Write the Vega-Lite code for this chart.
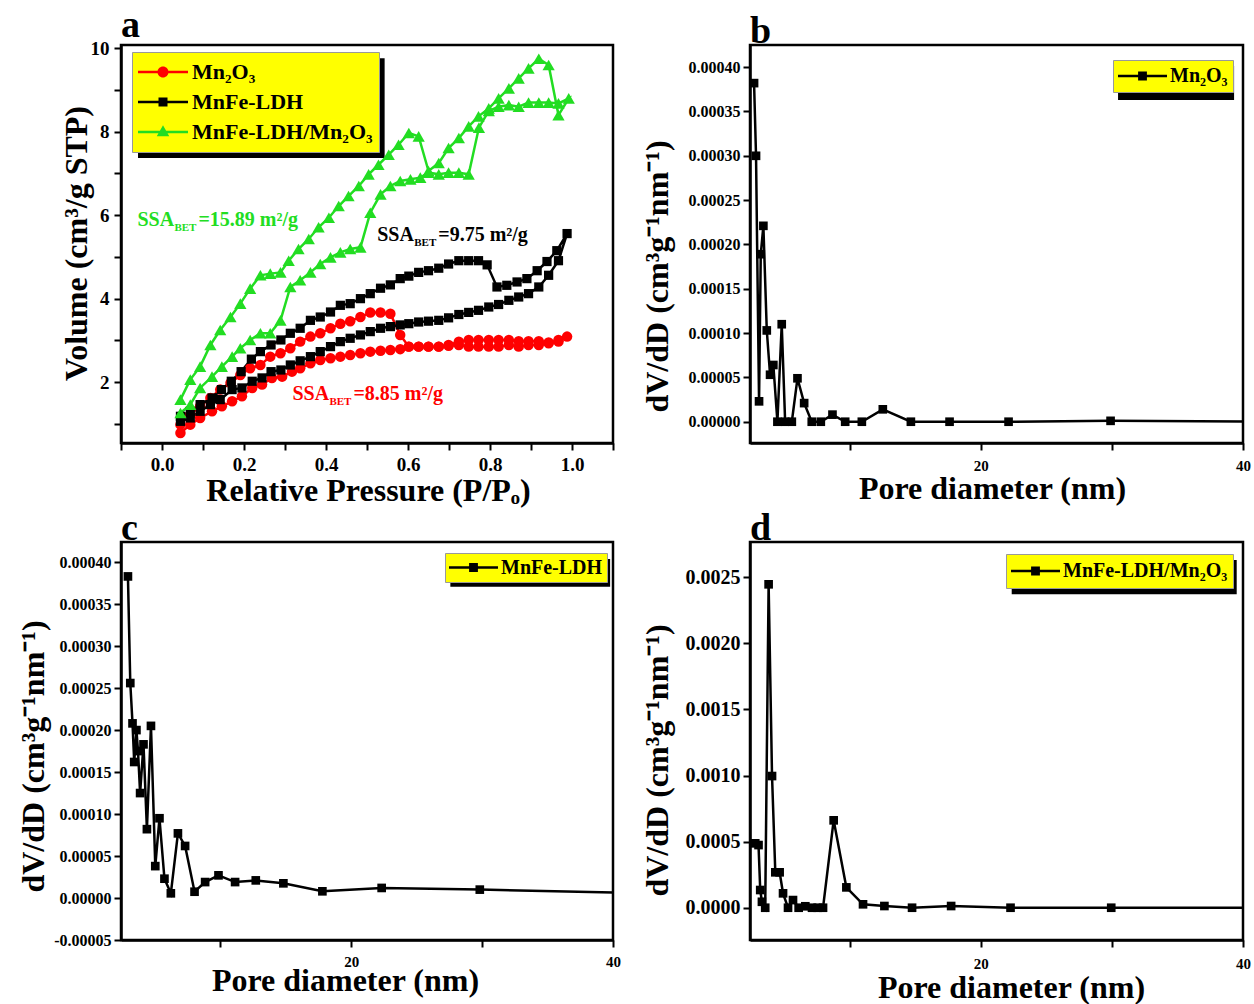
{
"$schema": "https://vega.github.io/schema/vega-lite/v6.json",
"background": "white",
"padding": {"left": 15, "top": 6, "right": 5, "bottom": 5},
"config": {
  "font": "Liberation Serif",
  "view": {"stroke": "black", "strokeWidth": 2.5},
  "axis": {"grid": false, "domainColor": "black", "domainWidth": 2.5, "tickColor": "black", "tickWidth": 2, "tickSize": 7, "labelFont": "Liberation Serif", "labelFontWeight": "bold", "labelColor": "black", "titleFont": "Liberation Serif", "titleFontWeight": "bold", "titleColor": "black", "titleFontSize": 32, "labelFlush": false, "labelOverlap": false},
  "title": {"font": "Liberation Serif", "fontWeight": "bold", "fontSize": 38, "color": "black", "anchor": "start", "frame": "group", "offset": 4, "baseline": "alphabetic", "dy": 10},
  "legend": {"labelFont": "Liberation Serif", "labelFontWeight": "bold", "labelColor": "black", "titleFont": "Liberation Serif", "labelLimit": 400, "symbolOpacity": 1, "symbolStrokeWidth": 0}
},
"datasets": {
  "iso": [
    {"s":"Mn₂O₃","i":0,"p":0.045,"v":0.78},{"s":"Mn₂O₃","i":1,"p":0.069,"v":0.98},{"s":"Mn₂O₃","i":2,"p":0.093,"v":1.14},{"s":"Mn₂O₃","i":3,"p":0.122,"v":1.30},{"s":"Mn₂O₃","i":4,"p":0.146,"v":1.42},{"s":"Mn₂O₃","i":5,"p":0.171,"v":1.54},{"s":"Mn₂O₃","i":6,"p":0.195,"v":1.66},{"s":"Mn₂O₃","i":7,"p":0.220,"v":1.86},{"s":"Mn₂O₃","i":8,"p":0.244,"v":1.94},{"s":"Mn₂O₃","i":9,"p":0.268,"v":2.10},
    {"s":"Mn₂O₃","i":10,"p":0.293,"v":2.13},{"s":"Mn₂O₃","i":11,"p":0.317,"v":2.25},{"s":"Mn₂O₃","i":12,"p":0.337,"v":2.33},{"s":"Mn₂O₃","i":13,"p":0.362,"v":2.45},{"s":"Mn₂O₃","i":14,"p":0.386,"v":2.53},{"s":"Mn₂O₃","i":15,"p":0.411,"v":2.57},{"s":"Mn₂O₃","i":16,"p":0.435,"v":2.61},{"s":"Mn₂O₃","i":17,"p":0.459,"v":2.65},{"s":"Mn₂O₃","i":18,"p":0.484,"v":2.69},{"s":"Mn₂O₃","i":19,"p":0.508,"v":2.73},
    {"s":"Mn₂O₃","i":20,"p":0.533,"v":2.75},{"s":"Mn₂O₃","i":21,"p":0.557,"v":2.77},{"s":"Mn₂O₃","i":22,"p":0.581,"v":2.79},{"s":"Mn₂O₃","i":23,"p":0.602,"v":2.85},{"s":"Mn₂O₃","i":24,"p":0.626,"v":2.85},{"s":"Mn₂O₃","i":25,"p":0.650,"v":2.85},{"s":"Mn₂O₃","i":26,"p":0.675,"v":2.85},{"s":"Mn₂O₃","i":27,"p":0.699,"v":2.87},{"s":"Mn₂O₃","i":28,"p":0.724,"v":2.89},{"s":"Mn₂O₃","i":29,"p":0.748,"v":2.85},
    {"s":"Mn₂O₃","i":30,"p":0.772,"v":2.85},{"s":"Mn₂O₃","i":31,"p":0.797,"v":2.85},{"s":"Mn₂O₃","i":32,"p":0.821,"v":2.85},{"s":"Mn₂O₃","i":33,"p":0.846,"v":2.89},{"s":"Mn₂O₃","i":34,"p":0.870,"v":2.85},{"s":"Mn₂O₃","i":35,"p":0.894,"v":2.89},{"s":"Mn₂O₃","i":36,"p":0.919,"v":2.89},{"s":"Mn₂O₃","i":37,"p":0.943,"v":2.93},{"s":"Mn₂O₃","i":38,"p":0.967,"v":3.01},{"s":"Mn₂O₃","i":39,"p":0.988,"v":3.09},
    {"s":"Mn₂O₃","i":40,"p":0.967,"v":2.97},{"s":"Mn₂O₃","i":41,"p":0.943,"v":2.95},{"s":"Mn₂O₃","i":42,"p":0.919,"v":2.98},{"s":"Mn₂O₃","i":43,"p":0.894,"v":2.98},{"s":"Mn₂O₃","i":44,"p":0.870,"v":2.98},{"s":"Mn₂O₃","i":45,"p":0.846,"v":3.01},{"s":"Mn₂O₃","i":46,"p":0.821,"v":3.01},{"s":"Mn₂O₃","i":47,"p":0.797,"v":3.01},{"s":"Mn₂O₃","i":48,"p":0.772,"v":3.01},{"s":"Mn₂O₃","i":49,"p":0.748,"v":3.01},
    {"s":"Mn₂O₃","i":50,"p":0.724,"v":2.97},{"s":"Mn₂O₃","i":51,"p":0.699,"v":2.89},{"s":"Mn₂O₃","i":52,"p":0.675,"v":2.85},{"s":"Mn₂O₃","i":53,"p":0.650,"v":2.85},{"s":"Mn₂O₃","i":54,"p":0.626,"v":2.85},{"s":"Mn₂O₃","i":55,"p":0.602,"v":2.85},{"s":"Mn₂O₃","i":56,"p":0.581,"v":3.13},{"s":"Mn₂O₃","i":57,"p":0.557,"v":3.64},{"s":"Mn₂O₃","i":58,"p":0.533,"v":3.67},{"s":"Mn₂O₃","i":59,"p":0.508,"v":3.67},
    {"s":"Mn₂O₃","i":60,"p":0.484,"v":3.56},{"s":"Mn₂O₃","i":61,"p":0.459,"v":3.46},{"s":"Mn₂O₃","i":62,"p":0.435,"v":3.40},{"s":"Mn₂O₃","i":63,"p":0.411,"v":3.29},{"s":"Mn₂O₃","i":64,"p":0.386,"v":3.17},{"s":"Mn₂O₃","i":65,"p":0.362,"v":3.09},{"s":"Mn₂O₃","i":66,"p":0.337,"v":2.97},{"s":"Mn₂O₃","i":67,"p":0.313,"v":2.81},{"s":"Mn₂O₃","i":68,"p":0.289,"v":2.69},{"s":"Mn₂O₃","i":69,"p":0.264,"v":2.61},
    {"s":"Mn₂O₃","i":70,"p":0.240,"v":2.41},{"s":"Mn₂O₃","i":71,"p":0.215,"v":2.33},{"s":"Mn₂O₃","i":72,"p":0.191,"v":2.17},{"s":"Mn₂O₃","i":73,"p":0.167,"v":1.98},{"s":"Mn₂O₃","i":74,"p":0.142,"v":1.82},{"s":"Mn₂O₃","i":75,"p":0.118,"v":1.62},{"s":"Mn₂O₃","i":76,"p":0.093,"v":1.42},{"s":"Mn₂O₃","i":77,"p":0.069,"v":1.22},{"s":"Mn₂O₃","i":78,"p":0.045,"v":0.98},

    {"s":"MnFe-LDH","i":0,"p":0.045,"v":1.06},{"s":"MnFe-LDH","i":1,"p":0.069,"v":1.14},{"s":"MnFe-LDH","i":2,"p":0.093,"v":1.30},{"s":"MnFe-LDH","i":3,"p":0.118,"v":1.46},{"s":"MnFe-LDH","i":4,"p":0.142,"v":1.58},{"s":"MnFe-LDH","i":5,"p":0.171,"v":1.82},{"s":"MnFe-LDH","i":6,"p":0.195,"v":1.86},{"s":"MnFe-LDH","i":7,"p":0.220,"v":2.02},{"s":"MnFe-LDH","i":8,"p":0.244,"v":2.10},{"s":"MnFe-LDH","i":9,"p":0.266,"v":2.25},
    {"s":"MnFe-LDH","i":10,"p":0.290,"v":2.29},{"s":"MnFe-LDH","i":11,"p":0.313,"v":2.41},{"s":"MnFe-LDH","i":12,"p":0.337,"v":2.51},{"s":"MnFe-LDH","i":13,"p":0.362,"v":2.61},{"s":"MnFe-LDH","i":14,"p":0.386,"v":2.73},{"s":"MnFe-LDH","i":15,"p":0.411,"v":2.85},{"s":"MnFe-LDH","i":16,"p":0.435,"v":2.97},{"s":"MnFe-LDH","i":17,"p":0.459,"v":3.05},{"s":"MnFe-LDH","i":18,"p":0.484,"v":3.13},{"s":"MnFe-LDH","i":19,"p":0.508,"v":3.21},
    {"s":"MnFe-LDH","i":20,"p":0.533,"v":3.29},{"s":"MnFe-LDH","i":21,"p":0.557,"v":3.33},{"s":"MnFe-LDH","i":22,"p":0.581,"v":3.37},{"s":"MnFe-LDH","i":23,"p":0.602,"v":3.40},{"s":"MnFe-LDH","i":24,"p":0.626,"v":3.44},{"s":"MnFe-LDH","i":25,"p":0.650,"v":3.46},{"s":"MnFe-LDH","i":26,"p":0.675,"v":3.48},{"s":"MnFe-LDH","i":27,"p":0.699,"v":3.54},{"s":"MnFe-LDH","i":28,"p":0.724,"v":3.62},{"s":"MnFe-LDH","i":29,"p":0.748,"v":3.67},
    {"s":"MnFe-LDH","i":30,"p":0.772,"v":3.72},{"s":"MnFe-LDH","i":31,"p":0.797,"v":3.80},{"s":"MnFe-LDH","i":32,"p":0.821,"v":3.86},{"s":"MnFe-LDH","i":33,"p":0.846,"v":3.96},{"s":"MnFe-LDH","i":34,"p":0.870,"v":4.04},{"s":"MnFe-LDH","i":35,"p":0.894,"v":4.12},{"s":"MnFe-LDH","i":36,"p":0.919,"v":4.28},{"s":"MnFe-LDH","i":37,"p":0.943,"v":4.56},{"s":"MnFe-LDH","i":38,"p":0.967,"v":4.91},{"s":"MnFe-LDH","i":39,"p":0.988,"v":5.56},
    {"s":"MnFe-LDH","i":40,"p":0.963,"v":5.15},{"s":"MnFe-LDH","i":41,"p":0.939,"v":4.89},{"s":"MnFe-LDH","i":42,"p":0.915,"v":4.67},{"s":"MnFe-LDH","i":43,"p":0.890,"v":4.48},{"s":"MnFe-LDH","i":44,"p":0.866,"v":4.40},{"s":"MnFe-LDH","i":45,"p":0.841,"v":4.32},{"s":"MnFe-LDH","i":46,"p":0.817,"v":4.28},{"s":"MnFe-LDH","i":47,"p":0.793,"v":4.81},{"s":"MnFe-LDH","i":48,"p":0.772,"v":4.91},{"s":"MnFe-LDH","i":49,"p":0.748,"v":4.91},
    {"s":"MnFe-LDH","i":50,"p":0.724,"v":4.91},{"s":"MnFe-LDH","i":51,"p":0.699,"v":4.83},{"s":"MnFe-LDH","i":52,"p":0.675,"v":4.73},{"s":"MnFe-LDH","i":53,"p":0.650,"v":4.67},{"s":"MnFe-LDH","i":54,"p":0.626,"v":4.63},{"s":"MnFe-LDH","i":55,"p":0.602,"v":4.54},{"s":"MnFe-LDH","i":56,"p":0.581,"v":4.48},{"s":"MnFe-LDH","i":57,"p":0.557,"v":4.33},{"s":"MnFe-LDH","i":58,"p":0.533,"v":4.25},{"s":"MnFe-LDH","i":59,"p":0.508,"v":4.12},
    {"s":"MnFe-LDH","i":60,"p":0.484,"v":4.00},{"s":"MnFe-LDH","i":61,"p":0.459,"v":3.88},{"s":"MnFe-LDH","i":62,"p":0.435,"v":3.84},{"s":"MnFe-LDH","i":63,"p":0.411,"v":3.68},{"s":"MnFe-LDH","i":64,"p":0.386,"v":3.56},{"s":"MnFe-LDH","i":65,"p":0.362,"v":3.48},{"s":"MnFe-LDH","i":66,"p":0.337,"v":3.29},{"s":"MnFe-LDH","i":67,"p":0.313,"v":3.17},{"s":"MnFe-LDH","i":68,"p":0.290,"v":3.01},{"s":"MnFe-LDH","i":69,"p":0.266,"v":2.89},
    {"s":"MnFe-LDH","i":70,"p":0.240,"v":2.73},{"s":"MnFe-LDH","i":71,"p":0.218,"v":2.55},{"s":"MnFe-LDH","i":72,"p":0.193,"v":2.25},{"s":"MnFe-LDH","i":73,"p":0.169,"v":2.02},{"s":"MnFe-LDH","i":74,"p":0.145,"v":1.82},{"s":"MnFe-LDH","i":75,"p":0.122,"v":1.62},{"s":"MnFe-LDH","i":76,"p":0.093,"v":1.46},{"s":"MnFe-LDH","i":77,"p":0.069,"v":1.30},{"s":"MnFe-LDH","i":78,"p":0.045,"v":1.18},

    {"s":"MnFe-LDH/Mn₂O₃","i":0,"p":0.045,"v":1.26},{"s":"MnFe-LDH/Mn₂O₃","i":1,"p":0.069,"v":1.46},{"s":"MnFe-LDH/Mn₂O₃","i":2,"p":0.093,"v":1.86},{"s":"MnFe-LDH/Mn₂O₃","i":3,"p":0.122,"v":2.13},{"s":"MnFe-LDH/Mn₂O₃","i":4,"p":0.146,"v":2.37},{"s":"MnFe-LDH/Mn₂O₃","i":5,"p":0.171,"v":2.61},{"s":"MnFe-LDH/Mn₂O₃","i":6,"p":0.191,"v":2.81},{"s":"MnFe-LDH/Mn₂O₃","i":7,"p":0.215,"v":3.01},{"s":"MnFe-LDH/Mn₂O₃","i":8,"p":0.240,"v":3.17},{"s":"MnFe-LDH/Mn₂O₃","i":9,"p":0.264,"v":3.17},
    {"s":"MnFe-LDH/Mn₂O₃","i":10,"p":0.289,"v":3.48},{"s":"MnFe-LDH/Mn₂O₃","i":11,"p":0.313,"v":4.28},{"s":"MnFe-LDH/Mn₂O₃","i":12,"p":0.337,"v":4.44},{"s":"MnFe-LDH/Mn₂O₃","i":13,"p":0.362,"v":4.63},{"s":"MnFe-LDH/Mn₂O₃","i":14,"p":0.386,"v":4.83},{"s":"MnFe-LDH/Mn₂O₃","i":15,"p":0.411,"v":4.99},{"s":"MnFe-LDH/Mn₂O₃","i":16,"p":0.435,"v":5.11},{"s":"MnFe-LDH/Mn₂O₃","i":17,"p":0.459,"v":5.19},{"s":"MnFe-LDH/Mn₂O₃","i":18,"p":0.484,"v":5.23},{"s":"MnFe-LDH/Mn₂O₃","i":19,"p":0.508,"v":6.06},
    {"s":"MnFe-LDH/Mn₂O₃","i":20,"p":0.533,"v":6.50},{"s":"MnFe-LDH/Mn₂O₃","i":21,"p":0.557,"v":6.70},{"s":"MnFe-LDH/Mn₂O₃","i":22,"p":0.581,"v":6.82},{"s":"MnFe-LDH/Mn₂O₃","i":23,"p":0.606,"v":6.86},{"s":"MnFe-LDH/Mn₂O₃","i":24,"p":0.630,"v":6.90},{"s":"MnFe-LDH/Mn₂O₃","i":25,"p":0.650,"v":7.02},{"s":"MnFe-LDH/Mn₂O₃","i":26,"p":0.675,"v":6.98},{"s":"MnFe-LDH/Mn₂O₃","i":27,"p":0.699,"v":7.02},{"s":"MnFe-LDH/Mn₂O₃","i":28,"p":0.724,"v":7.02},{"s":"MnFe-LDH/Mn₂O₃","i":29,"p":0.748,"v":6.98},
    {"s":"MnFe-LDH/Mn₂O₃","i":30,"p":0.773,"v":8.10},{"s":"MnFe-LDH/Mn₂O₃","i":31,"p":0.797,"v":8.50},{"s":"MnFe-LDH/Mn₂O₃","i":32,"p":0.821,"v":8.60},{"s":"MnFe-LDH/Mn₂O₃","i":33,"p":0.846,"v":8.64},{"s":"MnFe-LDH/Mn₂O₃","i":34,"p":0.870,"v":8.60},{"s":"MnFe-LDH/Mn₂O₃","i":35,"p":0.894,"v":8.70},{"s":"MnFe-LDH/Mn₂O₃","i":36,"p":0.919,"v":8.70},{"s":"MnFe-LDH/Mn₂O₃","i":37,"p":0.943,"v":8.70},{"s":"MnFe-LDH/Mn₂O₃","i":38,"p":0.967,"v":8.68},{"s":"MnFe-LDH/Mn₂O₃","i":39,"p":0.992,"v":8.80},
    {"s":"MnFe-LDH/Mn₂O₃","i":40,"p":0.967,"v":8.40},{"s":"MnFe-LDH/Mn₂O₃","i":41,"p":0.943,"v":9.60},{"s":"MnFe-LDH/Mn₂O₃","i":42,"p":0.919,"v":9.75},{"s":"MnFe-LDH/Mn₂O₃","i":43,"p":0.894,"v":9.52},{"s":"MnFe-LDH/Mn₂O₃","i":44,"p":0.870,"v":9.28},{"s":"MnFe-LDH/Mn₂O₃","i":45,"p":0.846,"v":9.04},{"s":"MnFe-LDH/Mn₂O₃","i":46,"p":0.821,"v":8.80},{"s":"MnFe-LDH/Mn₂O₃","i":47,"p":0.797,"v":8.56},{"s":"MnFe-LDH/Mn₂O₃","i":48,"p":0.772,"v":8.37},{"s":"MnFe-LDH/Mn₂O₃","i":49,"p":0.748,"v":8.13},
    {"s":"MnFe-LDH/Mn₂O₃","i":50,"p":0.724,"v":7.85},{"s":"MnFe-LDH/Mn₂O₃","i":51,"p":0.699,"v":7.61},{"s":"MnFe-LDH/Mn₂O₃","i":52,"p":0.675,"v":7.25},{"s":"MnFe-LDH/Mn₂O₃","i":53,"p":0.650,"v":7.06},{"s":"MnFe-LDH/Mn₂O₃","i":54,"p":0.626,"v":7.89},{"s":"MnFe-LDH/Mn₂O₃","i":55,"p":0.602,"v":7.97},{"s":"MnFe-LDH/Mn₂O₃","i":56,"p":0.577,"v":7.69},{"s":"MnFe-LDH/Mn₂O₃","i":57,"p":0.553,"v":7.45},{"s":"MnFe-LDH/Mn₂O₃","i":58,"p":0.528,"v":7.21},{"s":"MnFe-LDH/Mn₂O₃","i":59,"p":0.504,"v":6.98},
    {"s":"MnFe-LDH/Mn₂O₃","i":60,"p":0.480,"v":6.70},{"s":"MnFe-LDH/Mn₂O₃","i":61,"p":0.455,"v":6.46},{"s":"MnFe-LDH/Mn₂O₃","i":62,"p":0.431,"v":6.22},{"s":"MnFe-LDH/Mn₂O₃","i":63,"p":0.407,"v":5.94},{"s":"MnFe-LDH/Mn₂O₃","i":64,"p":0.382,"v":5.71},{"s":"MnFe-LDH/Mn₂O₃","i":65,"p":0.358,"v":5.43},{"s":"MnFe-LDH/Mn₂O₃","i":66,"p":0.333,"v":5.19},{"s":"MnFe-LDH/Mn₂O₃","i":67,"p":0.309,"v":4.91},{"s":"MnFe-LDH/Mn₂O₃","i":68,"p":0.289,"v":4.63},{"s":"MnFe-LDH/Mn₂O₃","i":69,"p":0.264,"v":4.60},
    {"s":"MnFe-LDH/Mn₂O₃","i":70,"p":0.240,"v":4.56},{"s":"MnFe-LDH/Mn₂O₃","i":71,"p":0.215,"v":4.24},{"s":"MnFe-LDH/Mn₂O₃","i":72,"p":0.191,"v":3.88},{"s":"MnFe-LDH/Mn₂O₃","i":73,"p":0.167,"v":3.56},{"s":"MnFe-LDH/Mn₂O₃","i":74,"p":0.142,"v":3.25},{"s":"MnFe-LDH/Mn₂O₃","i":75,"p":0.118,"v":2.89},{"s":"MnFe-LDH/Mn₂O₃","i":76,"p":0.093,"v":2.37},{"s":"MnFe-LDH/Mn₂O₃","i":77,"p":0.069,"v":2.06},{"s":"MnFe-LDH/Mn₂O₃","i":78,"p":0.045,"v":1.58}
  ],
  "psdB": [
    {"d":2.71,"y":0.000382},{"d":2.86,"y":0.000300},{"d":3.09,"y":0.000023},{"d":3.22,"y":0.000189},{"d":3.42,"y":0.000221},{"d":3.68,"y":0.000103},{"d":3.93,"y":0.000053},{"d":4.18,"y":0.000064},{"d":4.49,"y":0.0},{"d":4.82,"y":0.000110},
    {"d":5.08,"y":0.0},{"d":5.59,"y":0.0},{"d":6.02,"y":0.000049},{"d":6.53,"y":0.000021},{"d":7.11,"y":0.0},{"d":7.8,"y":0.0},{"d":8.69,"y":0.000008},{"d":9.66,"y":0.0},{"d":10.93,"y":0.0},{"d":12.53,"y":0.000014},
    {"d":14.67,"y":0.0},{"d":17.62,"y":0.0},{"d":22.12,"y":0.0},{"d":29.9,"y":0.000001},{"d":45,"y":0.0}
  ],
  "psdC": [
    {"d":2.93,"y":0.000383},{"d":3.11,"y":0.000256},{"d":3.28,"y":0.000208},{"d":3.41,"y":0.000162},{"d":3.58,"y":0.000200},{"d":3.70,"y":0.000175},{"d":3.86,"y":0.000125},{"d":4.12,"y":0.000183},{"d":4.38,"y":0.000082},{"d":4.69,"y":0.000205},
    {"d":5.02,"y":0.000038},{"d":5.34,"y":0.000095},{"d":5.72,"y":0.000023},{"d":6.21,"y":0.0000056},{"d":6.75,"y":0.000077},{"d":7.30,"y":0.000062},{"d":8.02,"y":0.0000075},{"d":8.83,"y":0.000019},{"d":9.85,"y":0.000027},{"d":11.12,"y":0.000019},
    {"d":12.70,"y":0.000021},{"d":14.81,"y":0.0000175},{"d":17.79,"y":0.000008},{"d":22.32,"y":0.000012},{"d":29.82,"y":0.00001},{"d":45,"y":0.000005}
  ],
  "psdD": [
    {"d":2.80,"y":0.000487},{"d":3.05,"y":0.000474},{"d":3.18,"y":0.000134},{"d":3.31,"y":0.000045},{"d":3.56,"y":0.0},{"d":3.82,"y":0.002446},{"d":4.08,"y":0.000996},{"d":4.33,"y":0.000268},{"d":4.66,"y":0.000268},{"d":4.92,"y":0.000109},
    {"d":5.30,"y":0.0},{"d":5.68,"y":0.000058},{"d":6.11,"y":0.0},{"d":6.62,"y":0.000011},{"d":7.13,"y":0.0},{"d":7.56,"y":0.0},{"d":7.97,"y":0.0},{"d":8.78,"y":0.000661},{"d":9.75,"y":0.000154},{"d":11.02,"y":0.000026},
    {"d":12.65,"y":0.000013},{"d":14.76,"y":0.0},{"d":17.74,"y":0.000013},{"d":22.27,"y":0.0},{"d":29.95,"y":0.0},{"d":45,"y":0.0}
  ]
},
"columns": 2,
"spacing": {"row": 99, "column": 137},
"bounds": "flush",
"resolve": {"scale": {"color": "independent", "shape": "independent"}, "legend": {"color": "independent", "shape": "independent"}},
"concat": [
  {
    "width": 492, "height": 398,
    "title": {"text": "a"},
    "layer": [
      {"data": {"values": [{}]}, "mark": {"type": "rect", "color": "black"},
       "encoding": {"x": {"datum": -0.0585, "type": "quantitative"}, "x2": {"datum": 0.543}, "y": {"datum": 9.76, "type": "quantitative"}, "y2": {"datum": 7.37}}},
      {"data": {"name": "iso"}, "transform": [{"filter": "datum.s === 'Mn₂O₃'"}], "mark": {"type": "line", "strokeWidth": 2.5, "color": "#ff0000"},
       "encoding": {
         "x": {"field": "p", "type": "quantitative", "scale": {"domain": [-0.1, 1.1], "nice": false, "zero": false},
               "axis": {"title": "Relative Pressure (P/Pₒ)", "values": [-0.1,0,0.1,0.2,0.3,0.4,0.5,0.6,0.7,0.8,0.9,1.0,1.1], "labelExpr": "datum.value > -0.01 && datum.value < 1.01 && round(datum.value*10) % 2 == 0 ? format(datum.value, '.1f') : ''", "labelFontSize": 19, "labelPadding": 5, "titleX": 247, "titleY": 57, "titleBaseline": "alphabetic", "titleAlign": "center"}},
         "y": {"field": "v", "type": "quantitative", "scale": {"domain": [0.54, 10.08], "nice": false, "zero": false},
               "axis": {"title": "Volume (cm³/g STP)", "values": [1,2,3,4,5,6,7,8,9,10], "labelExpr": "datum.value % 2 == 0 ? datum.label : ''", "labelFontSize": 19, "labelPadding": 5, "titleX": -45, "titleY": 198, "titleBaseline": "middle", "titleAlign": "center", "titleAngle": -90}},
         "order": {"field": "i", "type": "quantitative"}}},
      {"data": {"name": "iso"}, "transform": [{"filter": "datum.s === 'MnFe-LDH'"}], "mark": {"type": "line", "strokeWidth": 2.5, "color": "#000000"},
       "encoding": {"x": {"field": "p", "type": "quantitative"}, "y": {"field": "v", "type": "quantitative"}, "order": {"field": "i", "type": "quantitative"}}},
      {"data": {"name": "iso"}, "transform": [{"filter": "datum.s === 'MnFe-LDH/Mn₂O₃'"}], "mark": {"type": "line", "strokeWidth": 2.5, "color": "#22dd22"},
       "encoding": {"x": {"field": "p", "type": "quantitative"}, "y": {"field": "v", "type": "quantitative"}, "order": {"field": "i", "type": "quantitative"}}},
      {"data": {"name": "iso"}, "transform": [{"filter": "datum.s === 'Mn₂O₃'"}], "mark": {"type": "point", "shape": "circle", "filled": true, "opacity": 1, "size": 110, "color": "#ff0000"},
       "encoding": {"x": {"field": "p", "type": "quantitative"}, "y": {"field": "v", "type": "quantitative"}}},
      {"data": {"name": "iso"}, "transform": [{"filter": "datum.s === 'MnFe-LDH'"}], "mark": {"type": "point", "shape": "square", "filled": true, "opacity": 1, "size": 85, "color": "#000000"},
       "encoding": {"x": {"field": "p", "type": "quantitative"}, "y": {"field": "v", "type": "quantitative"}}},
      {"data": {"name": "iso"}, "transform": [{"filter": "datum.s === 'MnFe-LDH/Mn₂O₃'"}], "mark": {"type": "point", "shape": "triangle-up", "filled": true, "opacity": 1, "size": 150, "color": "#22dd22"},
       "encoding": {"x": {"field": "p", "type": "quantitative"}, "y": {"field": "v", "type": "quantitative"}}},
      {"data": {"name": "iso"}, "mark": {"type": "point", "filled": true, "opacity": 0},
       "encoding": {
         "x": {"field": "p", "type": "quantitative"}, "y": {"field": "v", "type": "quantitative"},
         "color": {"field": "s", "type": "nominal", "scale": {"domain": ["Mn₂O₃", "MnFe-LDH", "MnFe-LDH/Mn₂O₃"], "range": ["#ff0000", "#000000", "#22dd22"]},
                   "legend": {"orient": "none", "legendX": 11, "legendY": 7, "title": null, "fillColor": "#ffff00", "strokeColor": "#999999", "padding": 6, "labelFontSize": 22, "symbolSize": 2500, "clipHeight": 28, "rowPadding": 2, "labelOffset": 4, "symbolOpacity": 1, "symbolStrokeWidth": 0}},
         "shape": {"field": "s", "type": "nominal", "scale": {"domain": ["Mn₂O₃", "MnFe-LDH", "MnFe-LDH/Mn₂O₃"], "range": ["M-1,-0.05H1V0.05H-1ZM0.22,0A0.22,0.22,0,1,1,-0.22,0A0.22,0.22,0,1,1,0.22,0Z", "M-1,-0.05H1V0.05H-1ZM-0.18,-0.18H0.18V0.18H-0.18Z", "M-1,-0.05H1V0.05H-1ZM0,-0.27L0.25,0.17H-0.25Z"]},
                   "legend": {"orient": "none", "legendX": 11, "legendY": 7, "title": null, "fillColor": "#ffff00", "strokeColor": "#999999", "padding": 6, "labelFontSize": 22, "symbolSize": 2500, "clipHeight": 28, "rowPadding": 2, "labelOffset": 4, "symbolOpacity": 1, "symbolStrokeWidth": 0}}
       }},
      {"data": {"values": [{}]}, "mark": {"type": "text", "text": "SSA", "align": "left", "baseline": "alphabetic", "fontSize": 20, "fontWeight": "bold", "color": "#22dd22"},
       "encoding": {"x": {"datum": -0.060, "type": "quantitative"}, "y": {"datum": 5.75, "type": "quantitative"}}},
      {"data": {"values": [{}]}, "mark": {"type": "text", "text": "BET", "align": "left", "baseline": "alphabetic", "fontSize": 11, "fontWeight": "bold", "color": "#22dd22", "dx": 37, "dy": 5},
       "encoding": {"x": {"datum": -0.060, "type": "quantitative"}, "y": {"datum": 5.75, "type": "quantitative"}}},
      {"data": {"values": [{}]}, "mark": {"type": "text", "text": "=15.89 m²/g", "align": "left", "baseline": "alphabetic", "fontSize": 20, "fontWeight": "bold", "color": "#22dd22", "dx": 61},
       "encoding": {"x": {"datum": -0.060, "type": "quantitative"}, "y": {"datum": 5.75, "type": "quantitative"}}},
      {"data": {"values": [{}]}, "mark": {"type": "text", "text": "SSA", "align": "left", "baseline": "alphabetic", "fontSize": 20, "fontWeight": "bold", "color": "black"},
       "encoding": {"x": {"datum": 0.525, "type": "quantitative"}, "y": {"datum": 5.37, "type": "quantitative"}}},
      {"data": {"values": [{}]}, "mark": {"type": "text", "text": "BET", "align": "left", "baseline": "alphabetic", "fontSize": 11, "fontWeight": "bold", "color": "black", "dx": 37, "dy": 5},
       "encoding": {"x": {"datum": 0.525, "type": "quantitative"}, "y": {"datum": 5.37, "type": "quantitative"}}},
      {"data": {"values": [{}]}, "mark": {"type": "text", "text": "=9.75 m²/g", "align": "left", "baseline": "alphabetic", "fontSize": 20, "fontWeight": "bold", "color": "black", "dx": 61},
       "encoding": {"x": {"datum": 0.525, "type": "quantitative"}, "y": {"datum": 5.37, "type": "quantitative"}}},
      {"data": {"values": [{}]}, "mark": {"type": "text", "text": "SSA", "align": "left", "baseline": "alphabetic", "fontSize": 20, "fontWeight": "bold", "color": "#ff0000"},
       "encoding": {"x": {"datum": 0.318, "type": "quantitative"}, "y": {"datum": 1.57, "type": "quantitative"}}},
      {"data": {"values": [{}]}, "mark": {"type": "text", "text": "BET", "align": "left", "baseline": "alphabetic", "fontSize": 11, "fontWeight": "bold", "color": "#ff0000", "dx": 37, "dy": 5},
       "encoding": {"x": {"datum": 0.318, "type": "quantitative"}, "y": {"datum": 1.57, "type": "quantitative"}}},
      {"data": {"values": [{}]}, "mark": {"type": "text", "text": "=8.85 m²/g", "align": "left", "baseline": "alphabetic", "fontSize": 20, "fontWeight": "bold", "color": "#ff0000", "dx": 61},
       "encoding": {"x": {"datum": 0.318, "type": "quantitative"}, "y": {"datum": 1.57, "type": "quantitative"}}}
    ]
  },
  {
    "width": 493, "height": 398,
    "title": {"text": "b"},
    "layer": [
      {"data": {"values": [{}]}, "mark": {"type": "rect", "color": "black"},
       "encoding": {"x": {"datum": 30.47, "type": "quantitative"}, "x2": {"datum": 39.32}, "y": {"datum": 0.0004013, "type": "quantitative"}, "y2": {"datum": 0.000363}}},
      {"data": {"name": "psdB"}, "mark": {"type": "line", "strokeWidth": 2.5, "clip": true, "color": "black"},
       "encoding": {
         "x": {"field": "d", "type": "quantitative", "scale": {"domain": [2.4, 40], "nice": false, "zero": false},
               "axis": {"title": "Pore diameter (nm)", "values": [10,20,30,40], "labelExpr": "datum.value % 20 == 0 ? datum.label : ''", "labelFontSize": 15, "labelPadding": 8, "titleX": 242, "titleY": 55, "titleBaseline": "alphabetic", "titleAlign": "center"}},
         "y": {"field": "y", "type": "quantitative", "scale": {"domain": [-0.000024, 0.000425], "nice": false, "zero": false},
               "axis": {"title": "dV/dD (cm³g⁻¹nm⁻¹)", "values": [0,0.000025,0.00005,0.000075,0.0001,0.000125,0.00015,0.000175,0.0002,0.000225,0.00025,0.000275,0.0003,0.000325,0.00035,0.000375,0.0004], "labelExpr": "round(datum.value/0.000025) % 2 == 0 ? format(datum.value, '.5f') : ''", "labelFontSize": 16, "labelPadding": 3, "titleX": -93, "titleY": 231, "titleBaseline": "middle", "titleAlign": "center", "titleAngle": -90}}}},
      {"data": {"name": "psdB"}, "mark": {"type": "square", "filled": true, "size": 75, "color": "black", "opacity": 1, "clip": true},
       "encoding": {"x": {"field": "d", "type": "quantitative"}, "y": {"field": "y", "type": "quantitative"}}},
      {"data": {"name": "psdB"}, "mark": {"type": "point", "filled": true, "opacity": 0, "color": "black", "clip": true},
       "encoding": {"x": {"field": "d", "type": "quantitative"}, "y": {"field": "y", "type": "quantitative"},
         "shape": {"datum": "Mn₂O₃", "type": "nominal", "scale": {"range": ["M-1,-0.05H1V0.05H-1ZM-0.18,-0.18H0.18V0.18H-0.18Z"]},
                   "legend": {"orient": "none", "legendX": 363, "legendY": 15, "title": null, "fillColor": "#ffff00", "strokeColor": "#999999", "padding": 5, "labelFontSize": 20, "symbolSize": 2400, "clipHeight": 22, "labelOffset": 3, "symbolOpacity": 1, "symbolFillColor": "black", "symbolStrokeWidth": 0}}}}
    ]
  },
  {
    "width": 492, "height": 398,
    "title": {"text": "c"},
    "layer": [
      {"data": {"values": [{}]}, "mark": {"type": "rect", "color": "black"},
       "encoding": {"x": {"datum": 27.57, "type": "quantitative"}, "x2": {"datum": 39.78}, "y": {"datum": 0.0004038, "type": "quantitative"}, "y2": {"datum": 0.0003708}}},
      {"data": {"name": "psdC"}, "mark": {"type": "line", "strokeWidth": 2.5, "clip": true, "color": "black"},
       "encoding": {
         "x": {"field": "d", "type": "quantitative", "scale": {"domain": [2.4, 40], "nice": false, "zero": false},
               "axis": {"title": "Pore diameter (nm)", "values": [10,20,30,40], "labelExpr": "datum.value % 20 == 0 ? datum.label : ''", "labelFontSize": 15, "labelPadding": 7, "titleX": 224, "titleY": 50, "titleBaseline": "alphabetic", "titleAlign": "center"}},
         "y": {"field": "y", "type": "quantitative", "scale": {"domain": [-0.00005, 0.000424], "nice": false, "zero": false},
               "axis": {"title": "dV/dD (cm³g⁻¹nm⁻¹)", "values": [-0.00005,-0.000025,0,0.000025,0.00005,0.000075,0.0001,0.000125,0.00015,0.000175,0.0002,0.000225,0.00025,0.000275,0.0003,0.000325,0.00035,0.000375,0.0004], "labelExpr": "round(datum.value/0.000025) % 2 == 0 ? replace(format(datum.value, '.5f'), '−', '-') : ''", "labelFontSize": 16, "labelPadding": 3, "titleX": -88, "titleY": 214, "titleBaseline": "middle", "titleAlign": "center", "titleAngle": -90}}}},
      {"data": {"name": "psdC"}, "mark": {"type": "square", "filled": true, "size": 75, "color": "black", "opacity": 1, "clip": true},
       "encoding": {"x": {"field": "d", "type": "quantitative"}, "y": {"field": "y", "type": "quantitative"}}},
      {"data": {"name": "psdC"}, "mark": {"type": "point", "filled": true, "opacity": 0, "color": "black", "clip": true},
       "encoding": {"x": {"field": "d", "type": "quantitative"}, "y": {"field": "y", "type": "quantitative"},
         "shape": {"datum": "MnFe-LDH", "type": "nominal", "scale": {"range": ["M-1,-0.05H1V0.05H-1ZM-0.18,-0.18H0.18V0.18H-0.18Z"]},
                   "legend": {"orient": "none", "legendX": 324, "legendY": 11, "title": null, "fillColor": "#ffff00", "strokeColor": "#999999", "padding": 4, "labelFontSize": 20, "symbolSize": 2400, "clipHeight": 21, "labelOffset": 3, "symbolOpacity": 1, "symbolFillColor": "black", "symbolStrokeWidth": 0}}}}
    ]
  },
  {
    "width": 493, "height": 398,
    "title": {"text": "d"},
    "layer": [
      {"data": {"values": [{}]}, "mark": {"type": "rect", "color": "black"},
       "encoding": {"x": {"datum": 22.36, "type": "quantitative"}, "x2": {"datum": 39.52}, "y": {"datum": 0.00263, "type": "quantitative"}, "y2": {"datum": 0.00237}}},
      {"data": {"name": "psdD"}, "mark": {"type": "line", "strokeWidth": 2.5, "clip": true, "color": "black"},
       "encoding": {
         "x": {"field": "d", "type": "quantitative", "scale": {"domain": [2.4, 40], "nice": false, "zero": false},
               "axis": {"title": "Pore diameter (nm)", "values": [10,20,30,40], "labelExpr": "datum.value % 20 == 0 ? datum.label : ''", "labelFontSize": 15, "labelPadding": 9, "titleX": 261, "titleY": 57, "titleBaseline": "alphabetic", "titleAlign": "center"}},
         "y": {"field": "y", "type": "quantitative", "scale": {"domain": [-0.000244, 0.002766], "nice": false, "zero": false},
               "axis": {"title": "dV/dD (cm³g⁻¹nm⁻¹)", "values": [0,0.00025,0.0005,0.00075,0.001,0.00125,0.0015,0.00175,0.002,0.00225,0.0025], "labelExpr": "round(datum.value/0.00025) % 2 == 0 ? format(datum.value, '.4f') : ''", "labelFontSize": 20, "labelPadding": 3, "titleX": -93, "titleY": 218, "titleBaseline": "middle", "titleAlign": "center", "titleAngle": -90}}}},
      {"data": {"name": "psdD"}, "mark": {"type": "square", "filled": true, "size": 75, "color": "black", "opacity": 1, "clip": true},
       "encoding": {"x": {"field": "d", "type": "quantitative"}, "y": {"field": "y", "type": "quantitative"}}},
      {"data": {"name": "psdD"}, "mark": {"type": "point", "filled": true, "opacity": 0, "color": "black", "clip": true},
       "encoding": {"x": {"field": "d", "type": "quantitative"}, "y": {"field": "y", "type": "quantitative"},
         "shape": {"datum": "MnFe-LDH/Mn₂O₃", "type": "nominal", "scale": {"range": ["M-1,-0.05H1V0.05H-1ZM-0.18,-0.18H0.18V0.18H-0.18Z"]},
                   "legend": {"orient": "none", "legendX": 256, "legendY": 12, "title": null, "fillColor": "#ffff00", "strokeColor": "#999999", "padding": 5, "labelFontSize": 20, "symbolSize": 2400, "clipHeight": 24, "labelOffset": 3, "symbolOpacity": 1, "symbolFillColor": "black", "symbolStrokeWidth": 0}}}}
    ]
  }
]
}
